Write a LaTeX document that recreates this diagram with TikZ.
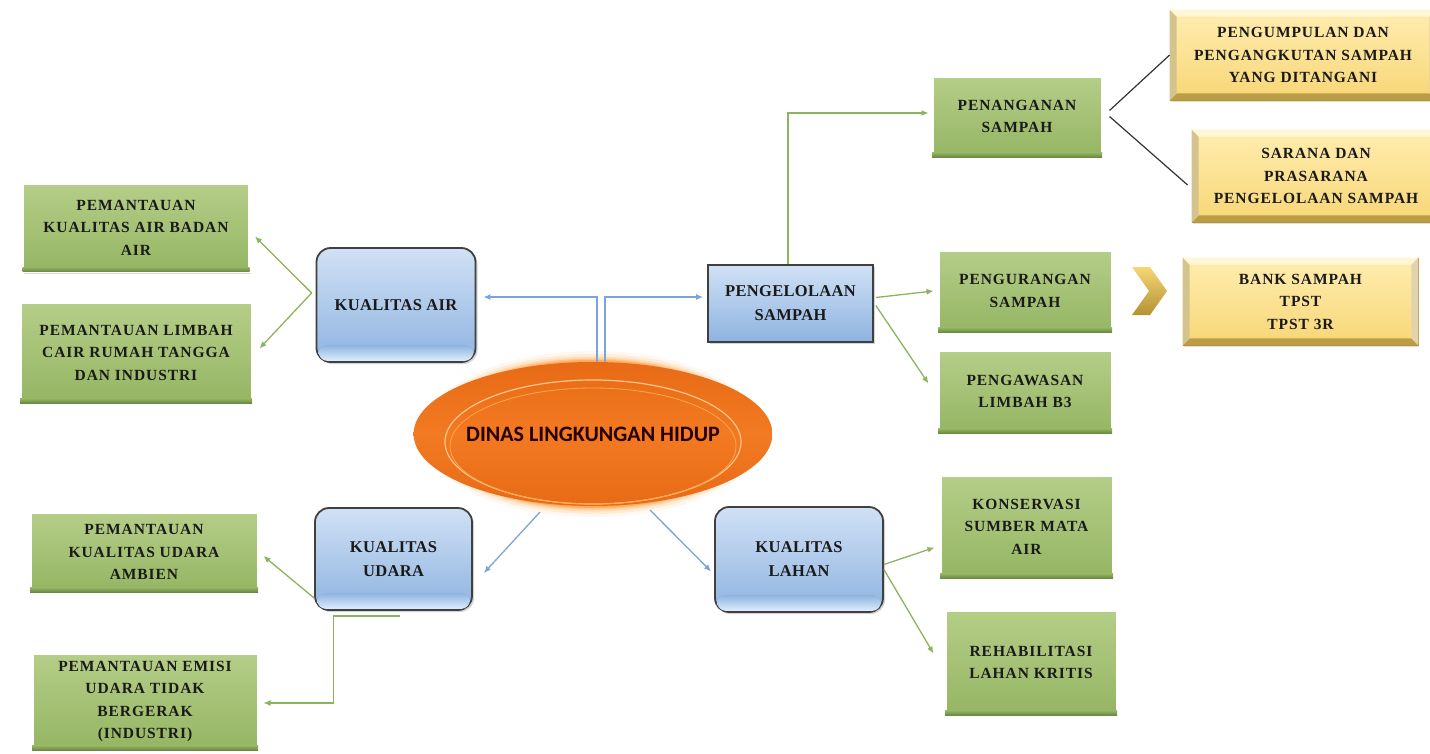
\documentclass[tikz,border=0pt]{standalone}
\usepackage{fontspec}
\setmainfont{Liberation Serif}
\newfontfamily\calfont{Carlito}
\usetikzlibrary{arrows.meta,shadows,shapes.geometric}
\definecolor{gtop}{HTML}{B5CE88}
\definecolor{gbot}{HTML}{95B563}
\definecolor{gdark}{HTML}{6C8A44}
\definecolor{btop}{HTML}{D0E1F5}
\definecolor{bbot}{HTML}{8EB3E0}
\definecolor{bhl}{HTML}{DCEEFC}
\definecolor{ytop}{HTML}{FFEDB0}
\definecolor{ybot}{HTML}{F7D676}
\definecolor{ydark}{HTML}{B39231}
\definecolor{ylite}{HTML}{FFF6D5}
\definecolor{orng}{HTML}{F27A22}
\definecolor{orngd}{HTML}{E86A16}
\definecolor{bline}{HTML}{7CA5D7}
\definecolor{gline}{HTML}{8CB35E}
\definecolor{txt}{HTML}{1A1A1A}
\tikzset{
  boxfont/.style={font=\bfseries\addfontfeature{LetterSpace=6}\fontsize{15.5}{22.5}\selectfont, text=txt, align=center},
  bluefont/.style={font=\bfseries\addfontfeature{LetterSpace=2}\fontsize{16.5}{24}\selectfont, text=txt, align=center},
  gbox/.style={rectangle, boxfont, draw=white, line width=3pt, top color=gtop, bottom color=gbot,
    drop shadow={shadow xshift=1pt, shadow yshift=-2pt, opacity=0.3}},
  bbox/.style={rectangle, bluefont, rounded corners=14pt, draw=black!75, line width=1.8pt,
    top color=btop, bottom color=bbot, drop shadow={shadow xshift=2pt, shadow yshift=-2pt, opacity=0.35}},
  sbox/.style={rectangle, bluefont, draw=black!75, line width=1.6pt,
    top color=btop, bottom color=bbot, drop shadow={shadow xshift=2pt, shadow yshift=-2pt, opacity=0.35}},
  ybox/.style={rectangle, boxfont, draw=ydark, line width=0.8pt, top color=ytop, bottom color=ybot,
    drop shadow={shadow xshift=1pt, shadow yshift=-2pt, opacity=0.25}},
  barr/.style={draw=bline, line width=1.3pt, -{Latex[length=7pt,width=6pt]}},
  garr/.style={draw=gline, line width=1.3pt, -{Latex[length=7pt,width=6pt]}},
  kline/.style={draw=black!80, line width=1.2pt},
}
\begin{document}
\begin{tikzpicture}[x=1pt,y=-1pt]
\useasboundingbox (0,0) rectangle (1430,753);
% glow of center
\foreach \w/\o in {22/0.06,16/0.1,11/0.15,7/0.25,4/0.35}{
  \draw[orange, opacity=\o, line width=\w pt] (593,434) ellipse [x radius=158, y radius=72];
}
% center
\node[ellipse, minimum width=316, minimum height=144, inner sep=0pt,
  top color=orngd, bottom color=orngd, middle color=orng] (dlh) at (593,434)
  {\calfont\bfseries\fontsize{22}{24}\selectfont\color{black!85!red}DINAS LINGKUNGAN HIDUP};
\draw[orange!45!white, line width=1.2pt] (593,442) ellipse [x radius=148, y radius=62];
\draw[orange!70!white, line width=0.8pt] (593,446) ellipse [x radius=143, y radius=58];
% blue boxes
\node[bbox, minimum width=159, minimum height=114] (kair) at (396,305) {KUALITAS AIR};
\node[sbox, minimum width=165, minimum height=77] (peng) at (790.5,303.5) {PENGELOLAAN\\SAMPAH};
\node[bbox, minimum width=157, minimum height=102] (kudara) at (393.5,559) {KUALITAS\\UDARA};
\node[bbox, minimum width=168, minimum height=105] (klahan) at (799,559.5) {KUALITAS\\LAHAN};
\foreach \n in {kair,kudara,klahan}{
  \shade[top color=bbot, bottom color=bhl, rounded corners=9pt]
    ([shift={(3pt,2pt)}]\n.south west) rectangle ([shift={(-3pt,18pt)}]\n.south east);
}
% green boxes
\node[gbox, minimum width=227, minimum height=88] (pkaba) at (136,227.5) {PEMANTAUAN\\KUALITAS  AIR BADAN\\AIR};
\node[gbox, minimum width=232, minimum height=101] (plcrt) at (136,352.5) {PEMANTAUAN  LIMBAH\\CAIR RUMAH TANGGA\\DAN INDUSTRI};
\node[gbox, minimum width=228, minimum height=80] (pkua) at (144,552) {PEMANTAUAN\\KUALITAS  UDARA\\AMBIEN};
\node[gbox, minimum width=226, minimum height=97] (peutb) at (145,701.5) {PEMANTAUAN  EMISI\\UDARA TIDAK\\BERGERAK\\(INDUSTRI)};
\node[gbox, minimum width=170, minimum height=81] (penang) at (1017,116.5) {PENANGANAN\\SAMPAH};
\node[gbox, minimum width=174, minimum height=82] (pengur) at (1025,291) {PENGURANGAN\\SAMPAH};
\node[gbox, minimum width=174, minimum height=83] (pengaw) at (1025,391.5) {PENGAWASAN\\LIMBAH B3};
\node[gbox, minimum width=173, minimum height=103] (konserv) at (1026.5,526.5) {KONSERVASI\\SUMBER MATA\\AIR};
\node[gbox, minimum width=172, minimum height=105] (rehab) at (1031,662.5) {REHABILITASI\\LAHAN KRITIS};
\foreach \n in {pkaba,plcrt,pkua,peutb,penang,pengur,pengaw,konserv,rehab}{
  \shade[top color=gbot, bottom color=gdark]
    ([shift={(1.5pt,1.5pt)}]\n.south west) rectangle ([shift={(-1.5pt,6pt)}]\n.south east);
}
% yellow boxes
\node[ybox, minimum width=266, minimum height=90] (pengump) at (1303,55) {PENGUMPULAN DAN\\PENGANGKUTAN  SAMPAH\\YANG DITANGANI};
\node[ybox, minimum width=248, minimum height=92] (sarana) at (1316,176) {SARANA DAN\\PRASARANA\\PENGELOLAAN  SAMPAH};
\node[ybox, minimum width=235, minimum height=87] (bank) at (1300.5,301.5) {BANK SAMPAH\\TPST\\TPST 3R};
\foreach \n in {pengump,sarana,bank}{
  \fill[ydark!90] (\n.south west) -- (\n.south east) -- ([shift={(-7pt,7pt)}]\n.south east) -- ([shift={(7pt,7pt)}]\n.south west) -- cycle;
  \fill[ydark!55] (\n.south west) -- (\n.north west) -- ([shift={(7pt,-7pt)}]\n.north west) -- ([shift={(7pt,7pt)}]\n.south west) -- cycle;
  \fill[ylite] (\n.north west) -- (\n.north east) -- ([shift={(-7pt,-7pt)}]\n.north east) -- ([shift={(7pt,-7pt)}]\n.north west) -- cycle;
  \fill[ydark!40] (\n.north east) -- (\n.south east) -- ([shift={(-7pt,7pt)}]\n.south east) -- ([shift={(-7pt,-7pt)}]\n.north east) -- cycle;
}
% chevron
\shade[top color=ybot, bottom color=ydark] (1132,267) -- (1150,267) -- (1167,291) -- (1150,315) -- (1132,315) -- (1149,291) -- cycle;
% connectors from center
\draw[barr] ([xshift=4pt]dlh.north) |- ([shift={(7pt,8pt)}]kair.east);
\draw[barr] ([xshift=12pt]dlh.north) |- ([shift={(-4pt,6.5pt)}]peng.west);
\draw[barr] ([shift={(-53pt,-78pt)}]dlh.center) -- ([shift={(11pt,-14pt)}]kudara.east);
\draw[barr] ([shift={(57pt,-76pt)}]dlh.center) -- ([shift={(-3pt,-12pt)}]klahan.west);
% green connectors
\draw[garr] ([shift={(-4pt,12pt)}]kair.west) -- ([shift={(4pt,-9pt)}]pkaba.east);
\draw[garr] ([shift={(-4pt,12pt)}]kair.west) -- ([shift={(6pt,4pt)}]plcrt.east);
\draw[garr] ([xshift=-2.5pt]peng.north) |- ([shift={(-2pt,3.5pt)}]penang.west);
\draw[garr] ([shift={(2pt,6pt)}]peng.east) -- ([xshift=-3pt]pengur.west);
\draw[garr] ([shift={(2pt,-2pt)}]peng.east) -- ([shift={(-8pt,8pt)}]pengaw.west);
\draw[garr] ([yshift=-39pt]kudara.west) -- ([shift={(4pt,-4pt)}]pkua.east);
\draw[garr] ([shift={(6pt,-5pt)}]kudara.south) -- ([shift={(-60pt,-5pt)}]kudara.south) |- ([shift={(4pt,-1.5pt)}]peutb.east);
\draw[garr] ([yshift=-5pt]klahan.east) -- ([shift={(-4pt,-21pt)}]konserv.west);
\draw[garr] ([yshift=-10pt]klahan.east) -- ([shift={(-10pt,9pt)}]rehab.west);
% dark lines
\draw[kline] ([shift={(6pt,6pt)}]penang.east) -- (pengump.west);
\draw[kline] ([shift={(6pt,0pt)}]penang.east) -- ([shift={(-4pt,-9pt)}]sarana.west);
\end{tikzpicture}
\end{document}
